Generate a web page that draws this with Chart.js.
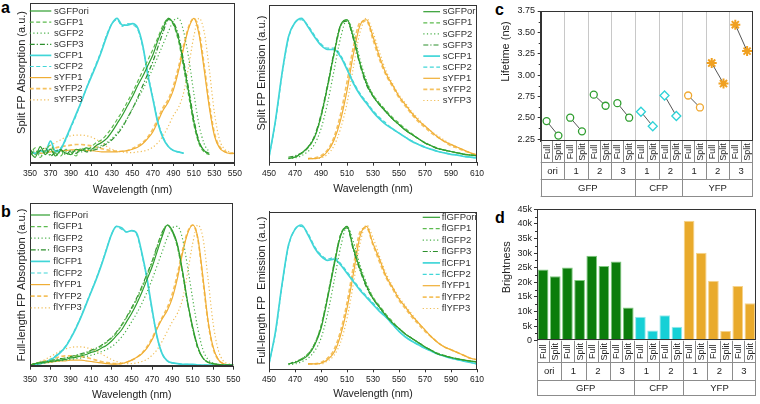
<!DOCTYPE html>
<html>
<head>
<meta charset="utf-8">
<script src="https://cdn.jsdelivr.net/npm/chart.js@4.4.1/dist/chart.umd.min.js"></script>
<style>
    body { margin: 0; background: #fff; }
    #pagina { position: relative; width: 760px; height: 404px; overflow: hidden; background: #fff; }
    canvas { position: absolute; }
    .letra { position: absolute; font: bold 16px/1 "Liberation Sans", Arial, sans-serif; color: #000; }
</style>
</head>
<body>
<div id="pagina">
    <div class="letra" style="left:1px;top:-0.5px">a</div>
    <div class="letra" style="left:1px;top:203.5px">b</div>
    <div class="letra" style="left:495px;top:1.5px">c</div>
    <div class="letra" style="left:495px;top:209.5px">d</div>
    <canvas id="absSplit" width="245" height="200" style="left:0;top:0"></canvas>
    <canvas id="emiSplit" width="245" height="200" style="left:245px;top:0"></canvas>
    <canvas id="absFull" width="245" height="204" style="left:0;top:200px"></canvas>
    <canvas id="emiFull" width="245" height="204" style="left:245px;top:200px"></canvas>
    <canvas id="graficoVida" width="260" height="200" style="left:500px;top:0"></canvas>
    <canvas id="graficoBrilho" width="260" height="204" style="left:500px;top:200px"></canvas>
</div>
<script>
// comprimentos de onda (nm)
const comprimentosAbs = [350, 355, 360, 365, 370, 375, 380, 385, 390, 395, 400, 405, 410, 415, 420, 425, 430, 435, 440, 445,
    450, 455, 460, 465, 470, 475, 480, 485, 490, 495, 500, 505, 510, 515, 520, 525, 530, 535, 540, 545, 550];
const comprimentosEmi = [450, 455, 460, 465, 470, 475, 480, 485, 490, 495, 500, 505, 510, 515, 520, 525, 530,
    535, 540, 545, 550, 555, 560, 565, 570, 575, 580, 585, 590, 595, 600, 605, 610];

const rotulosSplit = ['sGFPori', 'sGFP1', 'sGFP2', 'sGFP3', 'sCFP1', 'sCFP2', 'sYFP1', 'sYFP2', 'sYFP3'];
const rotulosFull = ['flGFPori', 'flGFP1', 'flGFP2', 'flGFP3', 'flCFP1', 'flCFP2', 'flYFP1', 'flYFP2', 'flYFP3'];

// absorção split (normalizada)
const absSGFPori = [0.01, -0.03, 0.05, -0.01, 0.03, -0.02, 0.02, 0.00, -0.01, 0.03, 0.02, 0.04, 0.03, 0.06, 0.08, 0.11, 0.16, 0.22, 0.28, 0.35,
    0.42, 0.50, 0.57, 0.65, 0.73, 0.84, 0.93, 1.00, 0.96, 0.85, 0.66, 0.45, 0.23, 0.08, 0.02, 0.00, null, null, null, null, null];
const absSGFP1 = [-0.02, 0.04, -0.03, 0.02, 0.06, 0.00, -0.02, 0.03, 0.01, -0.02, 0.04, 0.02, 0.05, 0.08, 0.10, 0.14, 0.19, 0.25, 0.31, 0.38,
    0.45, 0.53, 0.61, 0.69, 0.77, 0.86, 0.95, 1.00, 0.95, 0.83, 0.63, 0.42, 0.21, 0.07, 0.01, -0.01, null, null, null, null, null];
const absSGFP2 = [0.00, 0.02, -0.02, 0.01, -0.01, 0.02, 0.00, 0.01, -0.01, 0.02, 0.01, 0.03, 0.02, 0.04, 0.06, 0.08, 0.11, 0.15, 0.20, 0.26,
    0.33, 0.40, 0.47, 0.55, 0.63, 0.72, 0.81, 0.90, 0.98, 1.00, 0.90, 0.70, 0.44, 0.21, 0.07, 0.01, null, null, null, null, null];
const absSGFP3 = [0.03, -0.01, 0.02, 0.04, -0.02, 0.01, 0.03, -0.01, 0.02, 0.00, 0.03, 0.01, 0.02, 0.03, 0.05, 0.07, 0.10, 0.14, 0.19, 0.26,
    0.33, 0.41, 0.50, 0.59, 0.68, 0.79, 0.90, 0.99, 0.97, 0.87, 0.68, 0.47, 0.25, 0.09, 0.02, -0.01, null, null, null, null, null];
const absSCFP1 = [0.01, 0.00, 0.02, 0.01, 0.09, 0.01, 0.03, 0.11, 0.20, 0.29, 0.38, 0.48, 0.57, 0.66, 0.76, 0.87, 0.96, 1.00, 0.95, 0.95,
    0.96, 0.93, 0.80, 0.58, 0.40, 0.22, 0.11, 0.05, 0.02, 0.01, 0.00, null, null, null, null, null, null, null, null, null, null];
const absSCFP2 = [0.00, 0.01, 0.00, 0.02, 0.03, 0.02, 0.04, 0.10, 0.19, 0.28, 0.38, 0.48, 0.58, 0.67, 0.77, 0.88, 0.96, 0.99, 0.94, 0.96,
    0.95, 0.92, 0.79, 0.59, 0.41, 0.23, 0.12, 0.05, 0.02, 0.01, 0.00, null, null, null, null, null, null, null, null, null, null];
const absSYFP1 = [0.00, 0.00, 0.00, 0.005, 0.01, 0.015, 0.02, 0.02, 0.025, 0.025, 0.025, 0.02, 0.02, 0.015, 0.01, 0.01, 0.01, 0.01, 0.015, 0.02,
    0.03, 0.045, 0.07, 0.11, 0.16, 0.24, 0.32, 0.38, 0.47, 0.61, 0.78, 0.93, 1.00, 0.88, 0.62, 0.34, 0.13, 0.04, 0.01, 0.00, 0.00];
const absSYFP2 = [0.00, 0.005, 0.01, 0.02, 0.03, 0.04, 0.05, 0.055, 0.06, 0.065, 0.065, 0.06, 0.055, 0.045, 0.035, 0.025, 0.02, 0.015, 0.015, 0.02,
    0.035, 0.055, 0.08, 0.12, 0.18, 0.26, 0.34, 0.40, 0.50, 0.64, 0.80, 0.94, 1.00, 0.90, 0.65, 0.37, 0.15, 0.05, 0.015, 0.00, 0.00];
const absSYFP3 = [0.00, 0.01, 0.02, 0.04, 0.06, 0.08, 0.10, 0.12, 0.13, 0.135, 0.135, 0.13, 0.12, 0.10, 0.08, 0.05, 0.03, 0.015, 0.01, 0.005,
    0.005, 0.01, 0.015, 0.025, 0.045, 0.08, 0.13, 0.20, 0.28, 0.34, 0.45, 0.65, 0.87, 1.00, 0.90, 0.62, 0.30, 0.10, 0.03, 0.01, 0.00];

// emissão split
const emiSGFPori = [null, null, null, 0.01, 0.02, 0.05, 0.09, 0.16, 0.31, 0.52, 0.75, 0.95, 0.99, 0.86, 0.68, 0.54, 0.45,
    0.39, 0.34, 0.29, 0.25, 0.21, 0.18, 0.15, 0.12, 0.10, 0.08, 0.07, 0.06, 0.05, 0.04, 0.035, 0.03];
const emiSGFP1 = [null, null, null, 0.015, 0.02, 0.045, 0.085, 0.16, 0.30, 0.51, 0.74, 0.94, 0.99, 0.87, 0.69, 0.55, 0.46,
    0.40, 0.35, 0.30, 0.26, 0.22, 0.185, 0.15, 0.125, 0.10, 0.085, 0.07, 0.06, 0.05, 0.042, 0.036, 0.03];
const emiSGFP2 = [null, null, null, 0.01, 0.015, 0.03, 0.06, 0.11, 0.22, 0.40, 0.63, 0.86, 0.99, 0.90, 0.71, 0.56, 0.46,
    0.40, 0.34, 0.29, 0.25, 0.21, 0.18, 0.15, 0.12, 0.10, 0.08, 0.07, 0.06, 0.05, 0.04, 0.035, 0.03];
const emiSGFP3 = [null, null, null, 0.02, 0.03, 0.05, 0.09, 0.17, 0.32, 0.53, 0.76, 0.95, 0.98, 0.85, 0.67, 0.53, 0.45,
    0.39, 0.34, 0.29, 0.25, 0.21, 0.18, 0.15, 0.12, 0.10, 0.08, 0.07, 0.06, 0.05, 0.04, 0.035, 0.03];
const emiSCFP1 = [0.02, 0.28, 0.61, 0.87, 0.97, 1.00, 0.94, 0.87, 0.81, 0.78, 0.78, 0.73, 0.64, 0.54, 0.46, 0.40, 0.34,
    0.29, 0.25, 0.22, 0.19, 0.16, 0.13, 0.11, 0.09, 0.075, 0.06, 0.05, 0.04, 0.035, 0.025, 0.02, 0.015];
const emiSCFP2 = [0.02, 0.27, 0.60, 0.86, 0.97, 0.99, 0.95, 0.88, 0.82, 0.79, 0.79, 0.74, 0.65, 0.55, 0.47, 0.41, 0.35,
    0.30, 0.26, 0.22, 0.19, 0.16, 0.135, 0.11, 0.09, 0.075, 0.06, 0.05, 0.04, 0.035, 0.025, 0.02, 0.015];
const emiSYFP1 = [null, null, null, null, null, null, 0.01, 0.01, 0.02, 0.06, 0.14, 0.28, 0.49, 0.75, 0.95, 0.99, 0.87,
    0.73, 0.61, 0.53, 0.45, 0.39, 0.33, 0.28, 0.24, 0.20, 0.16, 0.13, 0.11, 0.09, 0.07, 0.05, 0.035];
const emiSYFP2 = [null, null, null, null, null, null, 0.01, 0.015, 0.03, 0.07, 0.16, 0.32, 0.55, 0.80, 0.97, 0.98, 0.85,
    0.71, 0.60, 0.52, 0.44, 0.38, 0.32, 0.27, 0.23, 0.19, 0.16, 0.13, 0.10, 0.085, 0.065, 0.05, 0.035];
const emiSYFP3 = [null, null, null, null, null, null, 0.01, 0.01, 0.015, 0.04, 0.10, 0.22, 0.40, 0.66, 0.90, 1.00, 0.90,
    0.76, 0.63, 0.54, 0.46, 0.40, 0.34, 0.29, 0.24, 0.20, 0.17, 0.14, 0.11, 0.09, 0.07, 0.05, 0.035];

// absorção full-length
const absFlGFPori = [0.00, 0.01, 0.015, 0.02, 0.025, 0.03, 0.035, 0.04, 0.05, 0.055, 0.065, 0.075, 0.09, 0.10, 0.12, 0.14, 0.17, 0.21, 0.25, 0.31,
    0.37, 0.44, 0.52, 0.61, 0.70, 0.81, 0.92, 1.00, 0.96, 0.86, 0.67, 0.45, 0.27, 0.13, 0.05, 0.02, 0.01, 0.005, 0.00, 0.00, 0.00];
const absFlGFP1 = [0.00, 0.01, 0.02, 0.025, 0.03, 0.035, 0.04, 0.05, 0.055, 0.065, 0.075, 0.085, 0.10, 0.115, 0.135, 0.16, 0.19, 0.23, 0.28, 0.34,
    0.40, 0.47, 0.55, 0.64, 0.73, 0.84, 0.94, 1.00, 0.95, 0.84, 0.65, 0.44, 0.26, 0.12, 0.05, 0.02, 0.01, 0.00, 0.00, 0.00, 0.00];
const absFlGFP2 = [0.00, 0.005, 0.01, 0.015, 0.02, 0.025, 0.03, 0.035, 0.04, 0.045, 0.05, 0.06, 0.07, 0.08, 0.095, 0.11, 0.13, 0.16, 0.20, 0.25,
    0.31, 0.37, 0.44, 0.52, 0.61, 0.71, 0.81, 0.91, 0.98, 0.99, 0.90, 0.70, 0.47, 0.26, 0.11, 0.04, 0.015, 0.005, 0.00, 0.00, 0.00];
const absFlGFP3 = [0.00, 0.01, 0.02, 0.025, 0.03, 0.04, 0.045, 0.05, 0.06, 0.07, 0.08, 0.09, 0.105, 0.12, 0.14, 0.165, 0.195, 0.235, 0.285, 0.345,
    0.41, 0.48, 0.56, 0.65, 0.74, 0.85, 0.95, 1.00, 0.95, 0.85, 0.66, 0.44, 0.26, 0.12, 0.05, 0.02, 0.01, 0.00, 0.00, 0.00, 0.00];
const absFlCFP1 = [0.00, 0.005, 0.01, 0.02, 0.035, 0.06, 0.09, 0.13, 0.19, 0.26, 0.34, 0.43, 0.52, 0.61, 0.71, 0.82, 0.93, 0.99, 0.98, 0.95,
    0.96, 0.94, 0.80, 0.62, 0.40, 0.20, 0.08, 0.03, 0.015, 0.01, 0.005, 0.005, 0.005, 0.00, 0.00, 0.00, 0.00, 0.00, 0.00, 0.00, 0.00];
const absFlCFP2 = [0.00, 0.005, 0.01, 0.02, 0.04, 0.065, 0.095, 0.135, 0.195, 0.265, 0.345, 0.435, 0.525, 0.615, 0.715, 0.825, 0.93, 0.99, 0.97, 0.95,
    0.96, 0.93, 0.79, 0.61, 0.39, 0.20, 0.08, 0.03, 0.015, 0.01, 0.005, 0.005, 0.00, 0.00, 0.00, 0.00, 0.00, 0.00, 0.00, 0.00, 0.00];
const absFlYFP1 = [0.00, 0.005, 0.01, 0.015, 0.02, 0.025, 0.03, 0.03, 0.035, 0.035, 0.035, 0.03, 0.025, 0.02, 0.015, 0.01, 0.007, 0.007, 0.01, 0.02,
    0.035, 0.055, 0.08, 0.12, 0.18, 0.26, 0.33, 0.39, 0.48, 0.62, 0.80, 0.94, 1.00, 0.91, 0.63, 0.32, 0.13, 0.04, 0.01, 0.00, 0.00];
const absFlYFP2 = [0.00, 0.01, 0.02, 0.03, 0.04, 0.05, 0.06, 0.065, 0.065, 0.065, 0.06, 0.055, 0.045, 0.035, 0.025, 0.018, 0.012, 0.01, 0.012, 0.02,
    0.035, 0.055, 0.085, 0.13, 0.19, 0.27, 0.34, 0.41, 0.51, 0.65, 0.82, 0.95, 1.00, 0.90, 0.61, 0.31, 0.12, 0.04, 0.01, 0.00, 0.00];
const absFlYFP3 = [0.00, 0.01, 0.025, 0.04, 0.06, 0.08, 0.10, 0.115, 0.125, 0.13, 0.13, 0.125, 0.115, 0.10, 0.08, 0.06, 0.04, 0.025, 0.015, 0.01,
    0.01, 0.015, 0.025, 0.04, 0.07, 0.11, 0.17, 0.24, 0.31, 0.37, 0.47, 0.66, 0.87, 1.00, 0.91, 0.62, 0.30, 0.11, 0.03, 0.01, 0.00];

// emissão full-length
const emiFlGFPori = [null, null, null, 0.02, 0.03, 0.05, 0.08, 0.15, 0.27, 0.48, 0.71, 0.92, 0.99, 0.83, 0.69, 0.57, 0.48,
    0.42, 0.36, 0.31, 0.27, 0.23, 0.20, 0.17, 0.14, 0.115, 0.09, 0.077, 0.065, 0.055, 0.047, 0.04, 0.035];
const emiFlGFP1 = [null, null, null, 0.02, 0.03, 0.055, 0.09, 0.16, 0.29, 0.50, 0.73, 0.93, 0.99, 0.84, 0.70, 0.58, 0.49,
    0.43, 0.37, 0.32, 0.27, 0.23, 0.20, 0.17, 0.14, 0.115, 0.095, 0.08, 0.067, 0.056, 0.048, 0.041, 0.035];
const emiFlGFP2 = [null, null, null, 0.015, 0.02, 0.035, 0.06, 0.11, 0.20, 0.37, 0.60, 0.84, 0.99, 0.88, 0.72, 0.59, 0.49,
    0.42, 0.36, 0.31, 0.27, 0.23, 0.20, 0.17, 0.14, 0.115, 0.09, 0.077, 0.065, 0.055, 0.047, 0.04, 0.035];
const emiFlGFP3 = [null, null, null, 0.02, 0.035, 0.055, 0.09, 0.16, 0.28, 0.49, 0.72, 0.93, 0.98, 0.82, 0.68, 0.56, 0.48,
    0.42, 0.36, 0.31, 0.27, 0.23, 0.20, 0.17, 0.14, 0.115, 0.09, 0.077, 0.065, 0.055, 0.047, 0.04, 0.035];
const emiFlCFP1 = [0.02, 0.25, 0.58, 0.86, 0.97, 1.00, 0.93, 0.84, 0.78, 0.75, 0.76, 0.72, 0.66, 0.60, 0.54, 0.49, 0.44,
    0.39, 0.35, 0.30, 0.25, 0.21, 0.18, 0.155, 0.13, 0.11, 0.09, 0.075, 0.06, 0.05, 0.04, 0.03, 0.02];
const emiFlCFP2 = [0.02, 0.24, 0.57, 0.85, 0.97, 0.99, 0.94, 0.85, 0.79, 0.76, 0.77, 0.73, 0.67, 0.61, 0.55, 0.50, 0.45,
    0.40, 0.35, 0.30, 0.25, 0.21, 0.18, 0.155, 0.13, 0.11, 0.09, 0.075, 0.06, 0.05, 0.04, 0.03, 0.02];
const emiFlYFP1 = [null, null, null, null, null, null, 0.02, 0.02, 0.025, 0.05, 0.10, 0.22, 0.41, 0.66, 0.92, 0.99, 0.87,
    0.76, 0.64, 0.56, 0.48, 0.42, 0.36, 0.31, 0.26, 0.21, 0.17, 0.14, 0.12, 0.10, 0.08, 0.06, 0.05];
const emiFlYFP2 = [null, null, null, null, null, null, 0.02, 0.02, 0.03, 0.06, 0.12, 0.25, 0.45, 0.71, 0.95, 0.98, 0.86,
    0.74, 0.63, 0.55, 0.47, 0.41, 0.35, 0.30, 0.25, 0.21, 0.17, 0.14, 0.12, 0.10, 0.08, 0.06, 0.05];
const emiFlYFP3 = [null, null, null, null, null, null, 0.02, 0.02, 0.02, 0.04, 0.08, 0.17, 0.34, 0.59, 0.87, 1.00, 0.91,
    0.78, 0.66, 0.57, 0.49, 0.43, 0.37, 0.31, 0.26, 0.21, 0.17, 0.14, 0.12, 0.10, 0.08, 0.06, 0.05];

// painéis c e d
const rotulosBarra = ['Full', 'Split', 'Full', 'Split', 'Full', 'Split', 'Full', 'Split', 'Full', 'Split',
    'Full', 'Split', 'Full', 'Split', 'Full', 'Split', 'Full', 'Split'];
const subgrupos = ['ori', '1', '2', '3', '1', '2', '1', '2', '3'];
const grupos = ['GFP', 'CFP', 'YFP'];
const tamanhosGrupo = [4, 2, 3];
const ticksVida = [2.25, 2.50, 2.75, 3.00, 3.25, 3.50, 3.75];
const vidaFull = [2.46, 2.50, 2.77, 2.67, 2.57, 2.76, 2.76, 3.14, 3.59];
const vidaSplit = [2.29, 2.34, 2.64, 2.50, 2.40, 2.52, 2.62, 2.90, 3.28];
const brilho = [24400, 22100, 25100, 20800, 29100, 25600, 27100, 11400, 8200, 3500,
    8700, 4800, 41100, 30100, 20500, 3300, 18700, 12800];

Chart.defaults.font.family = '"Liberation Sans", Arial, sans-serif';
Chart.defaults.color = '#222';

const estilos = [
    { borderColor: '#2f9e2f' },
    { borderColor: '#5dbb4f', borderDash: [4, 2.5] },
    { borderColor: '#48b048', borderDash: [1.2, 2.4] },
    { borderColor: '#2c8f2c', borderDash: [5, 2, 1.2, 2] },
    { borderColor: '#41d6d8', borderWidth: 1.7 },
    { borderColor: '#41d6d8', borderDash: [4, 2.5] },
    { borderColor: '#f0ae35' },
    { borderColor: '#f5c260', borderDash: [4, 2.5], borderWidth: 1.7 },
    { borderColor: '#f0bd55', borderDash: [1.2, 2.4] }
];

const moldura = {
    id: 'moldura',
    afterDraw(chart, args, opts) {
        const { ctx, chartArea: a } = chart;
        ctx.save();
        ctx.strokeStyle = '#333';
        ctx.lineWidth = 1;
        ctx.strokeRect(Math.round(a.left) + 0.5, Math.round(a.top) + 0.5,
            Math.round(a.right - a.left) - 1, Math.round(a.bottom - a.top) - 1);
        if (opts.menores) {
            const y = chart.scales.y;
            const t = y.ticks;
            ctx.beginPath();
            for (let i = 0; i < t.length - 1; i++) {
                const py = Math.round(y.getPixelForValue((t[i].value + t[i + 1].value) / 2)) + 0.5;
                ctx.moveTo(a.left, py);
                ctx.lineTo(a.left - 2, py);
            }
            ctx.stroke();
        }
        ctx.restore();
    }
};

const legendaInterna = {
    id: 'legendaInterna',
    afterDraw(chart, args, opts) {
        if (opts.x0 === undefined) return;
        const ctx = chart.ctx;
        ctx.save();
        ctx.font = '9.5px "Liberation Sans", Arial, sans-serif';
        ctx.textBaseline = 'middle';
        ctx.fillStyle = '#333';
        chart.data.datasets.forEach((ds, i) => {
            const y = opts.y0 + i * opts.passo;
            ctx.save();
            ctx.strokeStyle = ds.borderColor;
            ctx.lineWidth = ds.borderWidth;
            ctx.setLineDash(ds.borderDash || []);
            ctx.beginPath();
            ctx.moveTo(opts.x0, y);
            ctx.lineTo(opts.x1, y);
            ctx.stroke();
            ctx.restore();
            ctx.fillText(ds.label, opts.xt, y);
        });
        ctx.restore();
    }
};

const tabelaCategorias = {
    id: 'tabelaCategorias',
    beforeDatasetsDraw(chart, args, opts) {
        if (!opts.gradeInterna) return;
        const { ctx, chartArea: a } = chart;
        const passo = (a.right - a.left) / rotulosBarra.length;
        ctx.save();
        ctx.strokeStyle = '#c8c8c8';
        ctx.beginPath();
        for (let i = 2; i < rotulosBarra.length; i += 2) {
            const x = Math.round(a.left + i * passo) + 0.5;
            ctx.moveTo(x, a.top);
            ctx.lineTo(x, a.bottom);
        }
        ctx.stroke();
        ctx.restore();
    },
    afterDraw(chart, args, opts) {
        const { ctx, chartArea: a } = chart;
        const escala = chart.scales.x;
        const n = rotulosBarra.length;
        const passo = (a.right - a.left) / n;
        const y0 = a.bottom;
        const y1 = y0 + opts.alturas[0];
        const y2 = y1 + opts.alturas[1];
        const y3 = y2 + opts.alturas[2];
        const limites = [];
        let soma = 0;
        tamanhosGrupo.forEach(t => { soma += t * 2; limites.push(soma); });

        ctx.save();
        ctx.strokeStyle = '#8c8c8c';
        ctx.lineWidth = 1;
        ctx.beginPath();
        [y1, y2, y3].forEach(y => {
            ctx.moveTo(a.left, Math.round(y) - 0.5);
            ctx.lineTo(a.right, Math.round(y) - 0.5);
        });
        ctx.moveTo(Math.round(a.left) + 0.5, y0);
        ctx.lineTo(Math.round(a.left) + 0.5, y3);
        ctx.moveTo(Math.round(a.right) - 0.5, y0);
        ctx.lineTo(Math.round(a.right) - 0.5, y3);
        for (let i = 1; i < n; i++) {
            const x = Math.round(a.left + i * passo) + 0.5;
            let fim = y1;
            if (i % 2 === 0) fim = y2;
            if (limites.includes(i)) fim = y3;
            ctx.moveTo(x, y0);
            ctx.lineTo(x, fim);
        }
        ctx.stroke();

        ctx.fillStyle = '#222';
        ctx.textAlign = 'center';
        ctx.textBaseline = 'middle';
        ctx.font = '9px "Liberation Sans", Arial, sans-serif';
        rotulosBarra.forEach((t, i) => {
            ctx.save();
            ctx.translate(escala.getPixelForValue(i) + 0.5, (y0 + y1) / 2);
            ctx.rotate(-Math.PI / 2);
            ctx.fillText(t, 0, 0);
            ctx.restore();
        });
        ctx.font = '9.5px "Liberation Sans", Arial, sans-serif';
        subgrupos.forEach((t, k) => {
            ctx.fillText(t, a.left + (2 * k + 1) * passo, (y1 + y2) / 2);
        });
        let inicio = 0;
        grupos.forEach((g, k) => {
            const fim = inicio + tamanhosGrupo[k] * 2;
            ctx.fillText(g, a.left + (inicio + fim) / 2 * passo, (y2 + y3) / 2);
            inicio = fim;
        });
        ctx.restore();
    }
};

function criarEspectro(idCanvas, comprimentos, series, rotulos, cfg) {
    const ctx = document.getElementById(idCanvas).getContext('2d');
    return new Chart(ctx, {
        type: 'line',
        data: {
            datasets: series.map((valores, i) => Object.assign({
                label: rotulos[i],
                data: valores.map((v, j) => ({ x: comprimentos[j], y: v })),
                pointRadius: 0,
                borderWidth: 1.2,
                fill: false,
                spanGaps: false,
                cubicInterpolationMode: 'monotone'
            }, estilos[i]))
        },
        options: {
            responsive: false,
            animation: false,
            events: [],
            layout: { padding: cfg.padding },
            plugins: {
                legend: { display: false },
                tooltip: { enabled: false },
                legendaInterna: cfg.legenda
            },
            scales: {
                x: {
                    type: 'linear',
                    min: comprimentos[0],
                    max: comprimentos[comprimentos.length - 1],
                    ticks: { stepSize: 20, autoSkip: false, maxRotation: 0, padding: cfg.padTick, font: { size: 8.5 }, color: '#222' },
                    grid: { drawOnChartArea: false, drawTicks: true, tickLength: 3, color: '#333' },
                    border: { color: '#333' },
                    title: { display: true, text: 'Wavelength (nm)', font: { size: 10.5 }, padding: { top: 0, bottom: cfg.padTituloX }, color: '#222' },
                    afterFit: s => { s.height = cfg.alturaX; }
                },
                y: {
                    min: cfg.yMin,
                    max: cfg.yMax,
                    ticks: { display: false },
                    grid: { display: false },
                    border: { color: '#333' },
                    title: { display: true, text: cfg.tituloY, font: { size: 11 }, padding: { top: cfg.padTituloY, bottom: 0 }, color: '#222' },
                    afterFit: s => { s.width = cfg.larguraY; }
                }
            }
        },
        plugins: [moldura, legendaInterna]
    });
}

function corDoGrupo(k, cores) {
    let soma = 0;
    for (let g = 0; g < tamanhosGrupo.length; g++) {
        soma += tamanhosGrupo[g];
        if (k < soma) return cores[g];
    }
    return cores[cores.length - 1];
}

function criarVida() {
    const marcadores = [
        { pointStyle: 'circle', pointRadius: 3.5, pointBorderColor: '#2f9e2f' },
        { pointStyle: 'circle', pointRadius: 3.5, pointBorderColor: '#2f9e2f' },
        { pointStyle: 'circle', pointRadius: 3.5, pointBorderColor: '#2f9e2f' },
        { pointStyle: 'circle', pointRadius: 3.5, pointBorderColor: '#2f9e2f' },
        { pointStyle: 'rectRot', pointRadius: 4.5, pointBorderColor: '#2fd3d8' },
        { pointStyle: 'rectRot', pointRadius: 4.5, pointBorderColor: '#2fd3d8' },
        { pointStyle: 'circle', pointRadius: 3.5, pointBorderColor: '#f0a830' },
        { pointStyle: 'star', pointRadius: 5, pointBorderColor: '#f0a020', pointBorderWidth: 2 },
        { pointStyle: 'star', pointRadius: 5, pointBorderColor: '#f0a020', pointBorderWidth: 2 }
    ];
    const datasets = vidaFull.map((v, k) => {
        const dados = rotulosBarra.map(() => null);
        dados[2 * k] = v;
        dados[2 * k + 1] = vidaSplit[k];
        return Object.assign({
            data: dados,
            borderColor: '#555',
            borderWidth: 1,
            pointBackgroundColor: '#fff',
            pointBorderWidth: 1.3,
            spanGaps: false
        }, marcadores[k]);
    });
    return new Chart(document.getElementById('graficoVida').getContext('2d'), {
        type: 'line',
        data: { labels: rotulosBarra, datasets: datasets },
        options: {
            responsive: false,
            animation: false,
            events: [],
            layout: { padding: { top: 11, right: 4, bottom: 59, left: 0 } },
            plugins: {
                legend: { display: false },
                tooltip: { enabled: false },
                moldura: { menores: true },
                tabelaCategorias: { alturas: [22, 17, 17], gradeInterna: true }
            },
            scales: {
                x: { type: 'category', offset: true, display: false },
                y: {
                    min: 2.227,
                    max: 3.75,
                    afterBuildTicks: s => { s.ticks = ticksVida.map(v => ({ value: v })); },
                    ticks: { callback: v => Number(v).toFixed(2), font: { size: 9 }, padding: 2.7, color: '#222' },
                    grid: { drawOnChartArea: false, tickLength: 3, color: '#333' },
                    border: { color: '#333' },
                    title: { display: true, text: ' '.repeat(16) + 'Lifetime (ns)', font: { size: 11, lineHeight: 1 }, padding: { top: 0, bottom: 0 } },
                    afterFit: s => { s.width = 40.7; }
                }
            }
        },
        plugins: [tabelaCategorias, moldura]
    });
}

function criarBrilho() {
    const coresFundo = ['#0b7d0b', '#16d0d6', '#e9aa2b'];
    const coresBorda = ['#7fc97f', '#9aeaec', '#f6d38c'];
    return new Chart(document.getElementById('graficoBrilho').getContext('2d'), {
        type: 'bar',
        data: {
            labels: rotulosBarra,
            datasets: [{
                data: brilho,
                backgroundColor: brilho.map((v, i) => corDoGrupo(Math.floor(i / 2), coresFundo)),
                borderColor: brilho.map((v, i) => corDoGrupo(Math.floor(i / 2), coresBorda)),
                borderWidth: 1,
                barPercentage: 0.88,
                categoryPercentage: 1
            }]
        },
        options: {
            responsive: false,
            animation: false,
            events: [],
            layout: { padding: { top: 9.3, right: 4, bottom: 63.3, left: 0 } },
            plugins: {
                legend: { display: false },
                tooltip: { enabled: false },
                moldura: { menores: true },
                tabelaCategorias: { alturas: [22, 18.3, 15], gradeInterna: false }
            },
            scales: {
                x: { type: 'category', offset: true, display: false },
                y: {
                    min: 0,
                    max: 45000,
                    ticks: { stepSize: 5000, callback: v => v === 0 ? '0' : (v / 1000) + 'k', font: { size: 9 }, padding: 2, color: '#222' },
                    grid: { drawOnChartArea: false, tickLength: 3, color: '#333' },
                    border: { color: '#333' },
                    title: { display: true, text: ' '.repeat(5) + 'Brightness', font: { size: 11, lineHeight: 1 }, padding: { top: 1.5, bottom: 0 } },
                    afterFit: s => { s.width = 37; }
                }
            }
        },
        plugins: [tabelaCategorias, moldura]
    });
}

document.addEventListener('DOMContentLoaded', function () {
    criarEspectro('absSplit', comprimentosAbs,
        [absSGFPori, absSGFP1, absSGFP2, absSGFP3, absSCFP1, absSCFP2, absSYFP1, absSYFP2, absSYFP3], rotulosSplit, {
            padding: { top: 3.3, right: 7.3, bottom: 0, left: 0 },
            yMin: -0.072, yMax: 1.111,
            larguraY: 30, alturaX: 37, padTick: 3, padTituloX: 3.7, padTituloY: 15.7,
            tituloY: ' '.repeat(7) + 'Split FP Absorption (a.u.)',
            legenda: { x0: 29.7, x1: 51.3, xt: 54, y0: 11, passo: 11.1 }
        });
    criarEspectro('emiSplit', comprimentosEmi,
        [emiSGFPori, emiSGFP1, emiSGFP2, emiSGFP3, emiSCFP1, emiSCFP2, emiSYFP1, emiSYFP2, emiSYFP3], rotulosSplit, {
            padding: { top: 5, right: 13, bottom: 0, left: 0 },
            yMin: -0.019, yMax: 1.094,
            larguraY: 24, alturaX: 37.3, padTick: 3, padTituloX: 4.7, padTituloY: 10.4,
            tituloY: ' '.repeat(7) + 'Split FP Emission (a.u.)',
            legenda: { x0: 178.3, x1: 195, xt: 197.7, y0: 11.7, passo: 11.1 }
        });
    criarEspectro('absFull', comprimentosAbs,
        [absFlGFPori, absFlGFP1, absFlGFP2, absFlGFP3, absFlCFP1, absFlCFP2, absFlYFP1, absFlYFP2, absFlYFP3], rotulosFull, {
            padding: { top: 3.3, right: 7.3, bottom: 0, left: 0 },
            yMin: -0.012, yMax: 1.155,
            larguraY: 30, alturaX: 37.3, padTick: 4.5, padTituloX: 2.7, padTituloY: 15.7,
            tituloY: 'Full-length FP Absorption (a.u.)',
            legenda: { x0: 30.7, x1: 50, xt: 53.3, y0: 15, passo: 11.6 }
        });
    criarEspectro('emiFull', comprimentosEmi,
        [emiFlGFPori, emiFlGFP1, emiFlGFP2, emiFlGFP3, emiFlCFP1, emiFlCFP2, emiFlYFP1, emiFlYFP2, emiFlYFP3], rotulosFull, {
            padding: { top: 11.7, right: 13, bottom: 0, left: 0 },
            yMin: -0.018, yMax: 1.094,
            larguraY: 24, alturaX: 34.7, padTick: 2, padTituloX: 3.4, padTituloY: 10.7,
            tituloY: 'Full-length FP  Emission (a.u.)',
            legenda: { x0: 177.7, x1: 195, xt: 196.7, y0: 17.3, passo: 11.4 }
        });
    criarVida();
    criarBrilho();
});
</script>
</body>
</html>
